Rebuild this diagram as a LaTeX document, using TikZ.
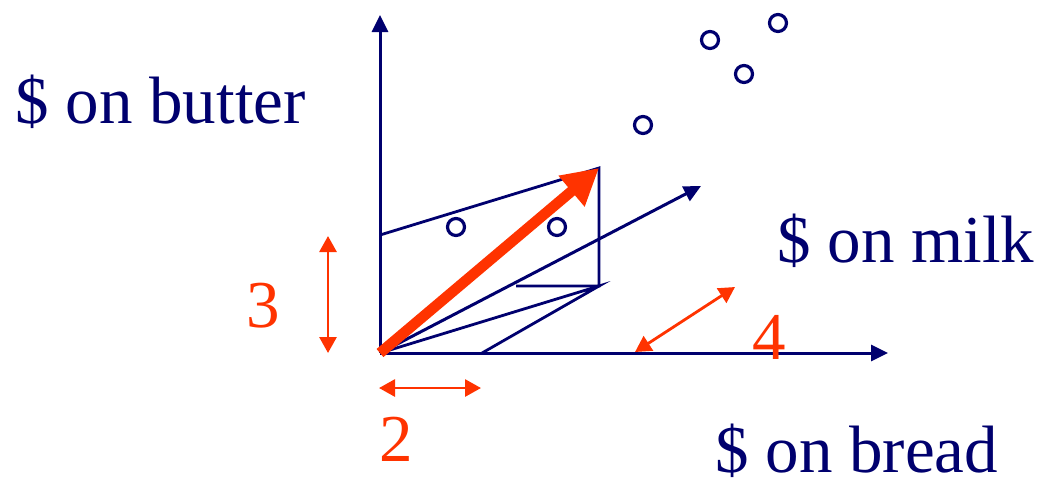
\documentclass[tikz,border=0pt]{standalone}
\usepackage{fontspec}
\setmainfont{Liberation Serif}
\usetikzlibrary{arrows.meta}
\definecolor{navyC}{RGB}{0,0,110}
\definecolor{redC}{RGB}{255,51,0}
\tikzset{
  axisS/.style ={navyC, line width=1.5pt, -{Triangle[length=8.5pt,width=8pt]}},
  boxS/.style  ={navyC, line width=1.4pt},
  vecS/.style  ={redC, line width=5.3pt, -{Triangle[length=18pt,width=19pt]}},
  dimS/.style  ={redC, line width=1.4pt, {Triangle[length=8pt,width=8.5pt]}-{Triangle[length=8pt,width=8.5pt]}},
  dotS/.style  ={circle, draw=navyC, line width=1.6pt, minimum size=8.5pt, inner sep=0pt},
  lblS/.style  ={navyC, anchor=base west, inner sep=0pt, font=\fontsize{33.5}{40}\selectfont},
  numS/.style  ={redC, anchor=base, inner sep=0pt, font=\fontsize{33.5}{40}\selectfont},
}
\begin{document}
\begin{tikzpicture}[x=0.5pt, y=-0.5pt]
  \useasboundingbox (0,0) rectangle (1038,484);
  % axes
  \coordinate (O)      at (380,353);
  \coordinate (bread)  at (888,353);
  \coordinate (butter) at (380,15);
  \coordinate (milk)   at (701,186);
  \draw[axisS] (O) -- (bread);
  \draw[axisS] (O) -- (butter);
  \draw[axisS] (O) -- (milk);
  % box
  \coordinate (topL) at (380,235);
  \coordinate (top)  at (599,168);
  \coordinate (low)  at (599,286);
  \coordinate (mid)  at (516,286);
  \coordinate (two)  at (482,353);
  \draw[boxS] (topL) -- (top) -- (low) -- (mid);
  \draw[boxS] (O) -- (low) -- (two);
  % data points
  \node[dotS] (p1) at (456,227) {};
  \node[dotS] (p2) at (557,227) {};
  \node[dotS] (p3) at (643,125) {};
  \node[dotS] (p4) at (710,40) {};
  \node[dotS] (p5) at (744,74) {};
  \node[dotS] (p6) at (778,23) {};
  % vector
  \draw[vecS] (O) -- (top);
  % sizes
  \coordinate (d3a) at (328,236); \coordinate (d3b) at (328,353);
  \coordinate (d2a) at (379,388); \coordinate (d2b) at (481,388);
  \coordinate (d4a) at (635,352); \coordinate (d4b) at (735,287);
  \draw[dimS] (d3a) -- (d3b);
  \draw[dimS] (d2a) -- (d2b);
  \draw[dimS] (d4a) -- (d4b);
  \node[numS] (n3) at (263,327) {3};
  \node[numS] (n2) at (396,461) {2};
  \node[numS] (n4) at (769,359) {4};
  % labels
  \node[lblS] (lbutter) at (15,123)  {\$ on butter};
  \node[lblS] (lmilk)   at (777,262) {\$ on milk};
  \node[lblS] (lbread)  at (715,472) {\$ on bread};
\end{tikzpicture}
\end{document}
